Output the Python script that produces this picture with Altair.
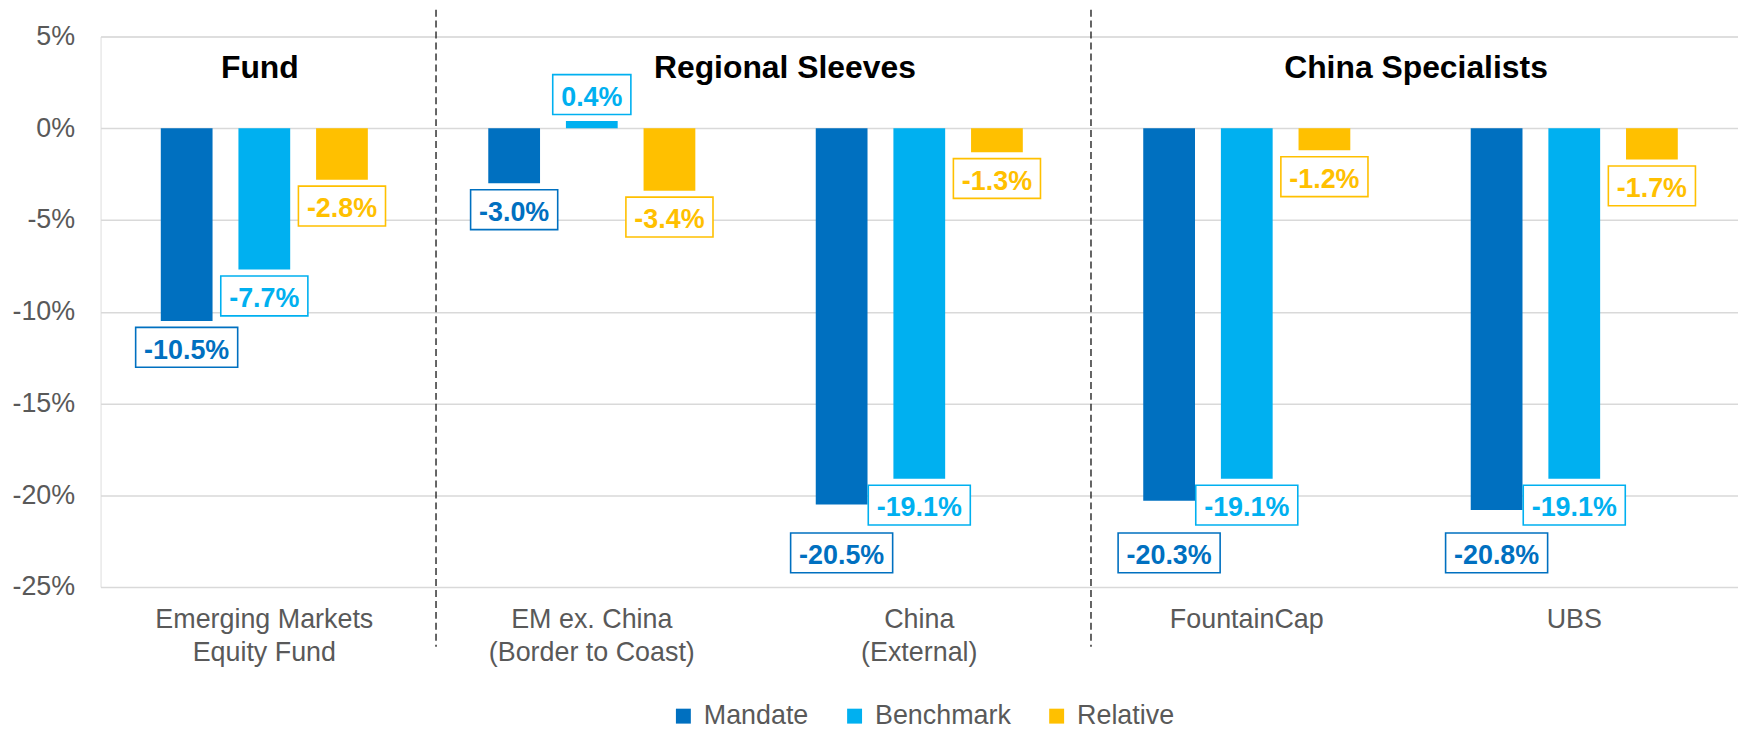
import altair as alt
import pandas as pd

# ---------------- data ----------------
categories = ["Emerging Markets\nEquity Fund", "EM ex. China\n(Border to Coast)",
              "China\n(External)", "FountainCap", "UBS"]
series = ["Mandate", "Benchmark", "Relative"]
mandate = [-10.5, -3.0, -20.5, -20.3, -20.8]
benchmark = [-7.7, 0.4, -19.1, -19.1, -19.1]
relative = [-2.8, -3.4, -1.3, -1.2, -1.7]
group_titles = ["Fund", "Regional Sleeves", "China Specialists"]
separator_before = ["EM ex. China\n(Border to Coast)", "FountainCap"]
y_ticks = [5, 0, -5, -10, -15, -20, -25]
colors = ["#0070C0", "#00B0F0", "#FFC000"]

# ---------------- layout ----------------
W, H = 1645, 553
Y_MIN, Y_MAX = -25, 5
PX = H / (Y_MAX - Y_MIN)
FONT = "Liberation Sans"
LBL = 27
GAP = 6.5
BOX_H = 40
GREY = "#595959"

CHAR_W = {"-": 0.333, ".": 0.278, "%": 0.889}


def text_w(s):
    return sum(CHAR_W.get(ch, 0.556) for ch in s) * LBL


rows = []
for i, c in enumerate(categories):
    vals = {"Mandate": mandate[i], "Benchmark": benchmark[i], "Relative": relative[i]}
    for s in series:
        v = vals[s]
        anchor = v
        if s == "Mandate" and v < 0 and vals["Benchmark"] < 0:
            limit = vals["Benchmark"] - (BOX_H + 8) / PX
            if v > limit:
                anchor = limit
        lab = f"{v:.1f}%"
        rows.append({"cat": c, "series": s, "value": v, "anchor": anchor,
                     "label": lab, "boxw": round(text_w(lab) + 17, 1),
                     "sign": "pos" if v >= 0 else "neg"})
df = pd.DataFrame(rows)

x_scale = alt.Scale(domain=categories, paddingInner=0, paddingOuter=0)
x_axis = alt.Axis(title=None, domain=False, ticks=False, tickSize=0, grid=False,
                  labelAngle=0, labelFont=FONT, labelFontSize=LBL, labelColor=GREY,
                  labelPadding=20, labelLineHeight=33, labelLimit=500,
                  labelExpr="split(datum.label, '\\n')")
y_scale = alt.Scale(domain=[Y_MIN, Y_MAX], nice=False, zero=False)
y_axis = alt.Axis(title=None, domain=False, ticks=False, tickSize=0, values=y_ticks,
                  labelExpr="datum.value + '%'", labelFont=FONT, labelFontSize=LBL,
                  labelColor=GREY, labelPadding=26, grid=True, gridColor="#D9D9D9",
                  gridWidth=1.5)
xo_scale = alt.Scale(domain=series, paddingInner=1 / 3, paddingOuter=0.7755)
col_scale = alt.Scale(domain=series, range=colors)


def X(**kw):
    return alt.X("cat:N", scale=x_scale, axis=x_axis, **kw)


XO = alt.XOffset("series:N", scale=xo_scale)

bars = alt.Chart(df).mark_bar().encode(
    x=X(),
    xOffset=XO,
    y=alt.Y("value:Q", scale=y_scale, axis=y_axis),
    y2=alt.datum(0),
    color=alt.Color("series:N", scale=col_scale, legend=alt.Legend(
        title=None, orient="none", legendX=572, legendY=669, direction="horizontal",
        symbolType="square", symbolSize=225, symbolStrokeWidth=0,
        labelFont=FONT, labelFontSize=LBL, labelColor=GREY, labelOffset=7,
        columnPadding=32, padding=0)),
)

layers = [bars]

# label boxes
for (w, sign), _ in df.groupby(["boxw", "sign"]):
    if sign == "neg":
        yo, y2o = GAP, GAP + BOX_H
    else:
        yo, y2o = -GAP, -(GAP + BOX_H)
    box = alt.Chart(df).transform_filter(
        (alt.datum.boxw == w) & (alt.datum.sign == sign)
    ).mark_bar(width=w, fill="white", strokeWidth=1.6, yOffset=yo, y2Offset=y2o).encode(
        x=X(), xOffset=XO,
        y=alt.Y("anchor:Q", scale=y_scale, axis=y_axis),
        y2=alt.Y2("anchor:Q"),
        stroke=alt.Stroke("series:N", scale=col_scale, legend=None),
    )
    layers.append(box)

# label texts
for sign in ["neg", "pos"]:
    yo = GAP + 31.3 if sign == "neg" else -(GAP + BOX_H) + 31.3
    txt = alt.Chart(df).transform_filter(alt.datum.sign == sign).mark_text(
        font=FONT, fontSize=LBL, fontWeight="bold", baseline="alphabetic",
        align="center", yOffset=yo).encode(
        x=X(), xOffset=XO,
        y=alt.Y("anchor:Q", scale=y_scale, axis=y_axis),
        text="label:N",
        fill=alt.Fill("series:N", scale=col_scale, legend=None),
    )
    layers.append(txt)

# dashed separators
sep_df = pd.DataFrame({"cat": separator_before})
seps = alt.Chart(sep_df).mark_rule(
    color="#333333", strokeWidth=1.5, strokeDash=[7, 4], xOffset=8).encode(
    x=X(bandPosition=0), y=alt.value(-27), y2=alt.value(613))
layers.append(seps)

# group titles
title_specs = [(group_titles[0], categories[0], 0.5, -4.5),
               (group_titles[1], categories[2], 0, 29.5),
               (group_titles[2], categories[4], 0, 5.5)]
for t, c, bp, dx in title_specs:
    tdf = pd.DataFrame({"cat": [c], "t": [t]})
    layers.append(alt.Chart(tdf).mark_text(
        font=FONT, fontSize=32, fontWeight="bold", color="black",
        baseline="alphabetic", align="center", dx=dx).encode(
        x=X(bandPosition=bp), y=alt.value(41.5), text="t:N"))

chart = alt.layer(*layers).properties(
    width=W, height=H,
    padding={"left": 93, "top": 27, "right": 0, "bottom": 142},
    autosize=alt.AutoSizeParams(type="none"),
).configure_view(stroke=None, strokeWidth=0, strokeOpacity=0).configure_axisX(
    grid=False, domain=False, ticks=False, domainOpacity=0, gridOpacity=0, tickOpacity=0
).configure_axisY(domain=False, ticks=False, domainOpacity=0, tickOpacity=0
).configure(background="white")

chart.save("out.html", embed_options={"renderer": "svg", "actions": False})
